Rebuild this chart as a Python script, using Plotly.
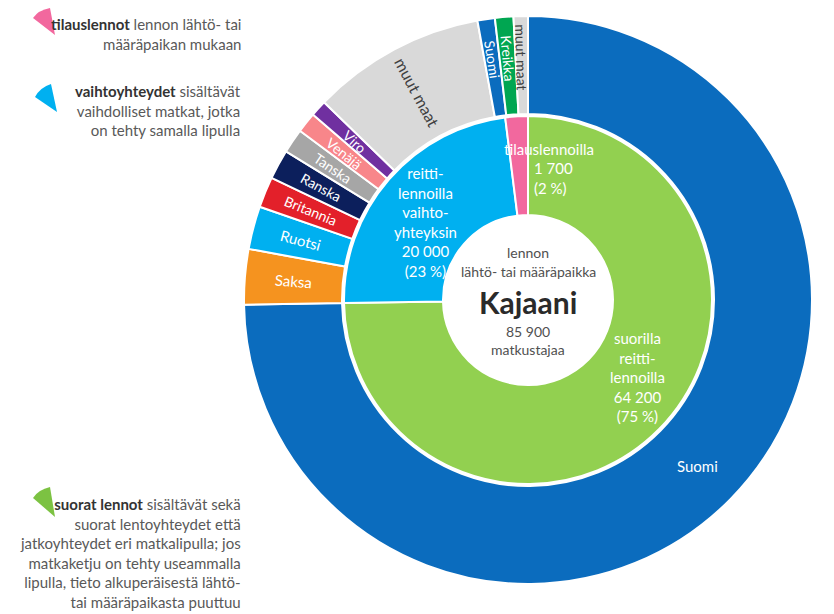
import numpy as np
import plotly.graph_objects as go

W, H = 834, 614

# inner ring: type of flight
inner_labels = ["suorilla reittilennoilla", "reittilennoilla vaihtoyhteyksin", "tilauslennoilla"]
inner_values = [64200, 20000, 1700]
inner_colors = ["#92d050", "#00b0f0", "#f2689e"]

# outer ring: country of origin / destination
outer_ids = ["Suomi (suorat)", "Saksa", "Ruotsi", "Britannia", "Ranska", "Tanska", "Venäjä", "Viro",
             "muut maat (vaihto)", "Suomi (tilaus)", "Kreikka", "muut maat (tilaus)"]
outer_text = ["Suomi", "Saksa", "Ruotsi", "Britannia", "Ranska", "Tanska", "Venäjä", "Viro",
              "muut maat", "Suomi", "Kreikka", "muut maat"]
outer_values = [64200, 2700, 2100, 1500, 1450, 1200, 1000, 800, 8500, 850, 900, 700]
outer_colors = ["#0b6cbe", "#f5931f", "#00b0f0", "#e3202a", "#0c1f5c", "#a6a6a6", "#f8868a",
                "#7030a0", "#d9d9d9", "#0b6cbe", "#00a651", "#d9d9d9"]
outer_textcolors = ["white"] * 8 + ["#404040", "white", "white", "#404040"]
outer_textsizes = [15, 15, 15, 14, 14, 14, 14, 14, 16, 14, 14, 14]

FONT = "Lato"
cx, cy = 528, 300
R_out, R_gap, R_in, R_hole = 284, 186, 184, 85


def px(x):
    return x / W


def py(y):
    return 1 - y / H


fig = go.Figure()

fig.add_trace(go.Pie(
    labels=outer_ids, values=outer_values,
    textinfo="none", sort=False, direction="clockwise", rotation=0,
    hole=R_gap / R_out,
    marker=dict(colors=outer_colors, line=dict(color="white", width=2)),
    domain=dict(x=[px(cx - R_out), px(cx + R_out)], y=[py(cy + R_out), py(cy - R_out)]),
    hoverinfo="label+value", showlegend=False,
))

fig.add_trace(go.Pie(
    labels=inner_labels, values=inner_values,
    textinfo="none", sort=False, direction="clockwise", rotation=0,
    hole=R_hole / R_in,
    marker=dict(colors=inner_colors, line=dict(color="white", width=2)),
    domain=dict(x=[px(cx - R_in), px(cx + R_in)], y=[py(cy + R_in), py(cy - R_in)]),
    hoverinfo="label+value", showlegend=False,
))

ann = []


def note(x, y, text, size=15, color="white", xanchor="center", align="center", angle=0):
    ann.append(dict(x=px(x), y=py(y), xref="paper", yref="paper", text=text, showarrow=False,
                    xanchor=xanchor, yanchor="middle", align=align, textangle=angle,
                    font=dict(family=FONT, size=size, color=color)))


# radial labels of the outer ring, placed at the middle angle of each slice
vals = np.array(outer_values, dtype=float)
ends = np.cumsum(vals) / vals.sum() * 360
mids = ends - vals / vals.sum() * 360 / 2
for i, (t, a) in enumerate(zip(outer_text, mids)):
    if i == 0:
        continue
    r = 243 if i >= 9 else 235
    rad = np.radians(a)
    note(cx + r * np.sin(rad), cy - r * np.cos(rad), t, outer_textsizes[i], outer_textcolors[i],
         angle=a - 270)

# big Suomi slice label
note(697, 466, "Suomi", 15)

# center
note(cx, 253, "lennon", 14, "#505050")
note(cx, 271, "lähtö- tai määräpaikka", 14, "#505050")
note(cx, 302, "<b>Kajaani</b>", 30, "#2a2a2a")
note(cx, 331, "85 900", 14, "#505050")
note(cx, 349, "matkustajaa", 14, "#505050")

# inner ring labels
note(425, 222, "reitti-<br>lennoilla<br>vaihto-<br>yhteyksin<br>20 000<br>(23 %)", 15)
note(549, 149, "tilauslennoilla", 15)
note(532, 178, "1 700<br>(2 %)", 15, xanchor="left", align="left")
note(637, 377, "suorilla<br>reitti-<br>lennoilla<br>64 200<br>(75 %)", 15)

# left side notes
note(243, 34, "<b style='color:#333'>tilauslennot</b> lennon lähtö- tai<br>määräpaikan mukaan",
     15, "#595959", xanchor="right", align="right")
note(243, 111, "<b style='color:#333'>vaihtoyhteydet</b> sisältävät<br>vaihdolliset matkat, jotka<br>on tehty samalla lipulla",
     15, "#595959", xanchor="right", align="right")
note(243, 553, "<b style='color:#333'>suorat lennot</b> sisältävät sekä<br>suorat lentoyhteydet että<br>"
     "jatkoyhteydet eri matkalipulla; jos<br>matkaketju on tehty useammalla<br>"
     "lipulla, tieto alkuperäisestä lähtö-<br>tai määräpaikasta puuttuu",
     15, "#595959", xanchor="right", align="right")

# wedge markers for the notes
shapes = []
for (x0, y0), (x1, y1), (x2, y2), col in [
    ((33, 18), (50, 8), (55, 35), "#f2689e"),
    ((35, 97), (51, 84), (57, 112), "#00b0f0"),
    ((33, 498), (50, 487), (55, 517), "#7cc242"),
]:
    path = (f"M {px(x0)} {py(y0)} Q {px((x0 + x1) / 2 - 3)} {py((y0 + y1) / 2 - 3)} {px(x1)} {py(y1)} "
            f"L {px(x2)} {py(y2)} Z")
    shapes.append(dict(type="path", path=path, xref="paper", yref="paper",
                       fillcolor=col, line=dict(width=0)))

fig.update_layout(
    width=W, height=H,
    margin=dict(l=0, r=0, t=0, b=0),
    paper_bgcolor="white", plot_bgcolor="white",
    font=dict(family=FONT),
    annotations=ann, shapes=shapes,
)

fig.write_html("out.html", config={"displayModeBar": False},
               post_script="document.body.style.margin='0';")
